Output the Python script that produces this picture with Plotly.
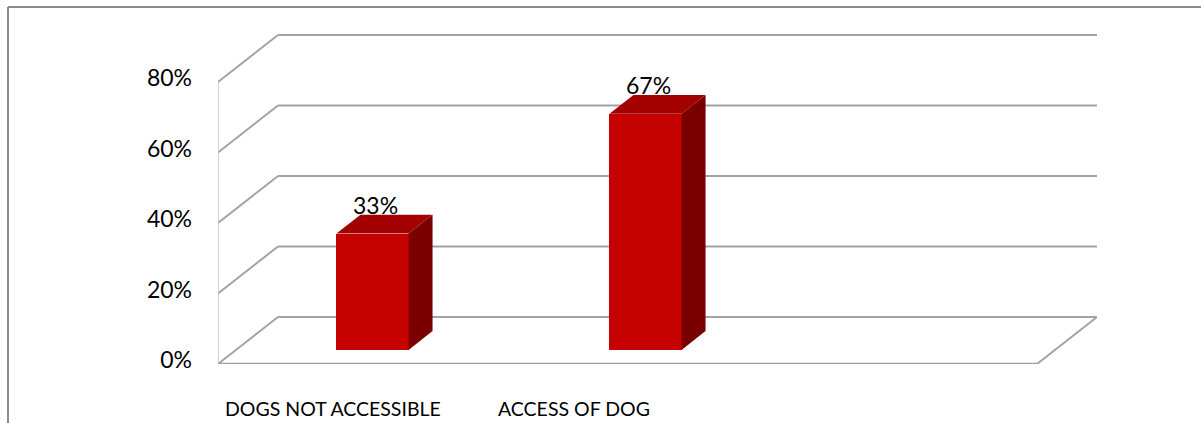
import plotly.graph_objects as go

# ---- data -------------------------------------------------------------
categories = ["DOGS NOT ACCESSIBLE", "ACCESS OF DOG"]
values = [33, 67]                      # percent
y_ticks = [0, 20, 40, 60, 80]
y_tick_text = ["0%", "20%", "40%", "60%", "80%"]
n_slots = 3                            # category slots on the floor

# ---- geometry of the pseudo-3D box -----------------------------------
W, H = 1201, 423
L, T, B = 218, 30, 59
SLOT_PX = 273                          # pixels per category slot
PX_PER_PCT = 3.525                     # pixels per percent
DEPTH_PX = (60, 47)                    # oblique depth offset (right, up)

DX = DEPTH_PX[0] / SLOT_PX             # depth in x-axis units
DY = DEPTH_PX[1] / PX_PER_PCT          # depth in y-axis units
x_lo = -0.5
x_front_hi = n_slots - 0.5
x_hi = x_front_hi + DX
plot_w = (x_hi - x_lo) * SLOT_PX
R = W - L - plot_w
plot_h = H - T - B
y_hi = plot_h / PX_PER_PCT

BAR_W = 0.264
D_FRONT, D_BACK = 0.3, 0.7             # bar depth position within the box
DD = D_BACK - D_FRONT

FRONT_COL = "#C50000"
SIDE_COL = "#7A0000"
TOP_COL = "#A30000"
GRID_COL = "#A3A3A3"
FONT = "Lato"


def px_to_paper_x(px):
    return (px - L) / plot_w


def px_to_paper_y(py):
    return (H - B - py) / plot_h


fig = go.Figure()

bar_x = [i + D_FRONT * DX for i in range(len(values))]
bar_base = D_FRONT * DY

fig.add_trace(go.Bar(
    x=bar_x, y=values, base=[bar_base] * len(values), width=BAR_W,
    marker=dict(color=FRONT_COL, line=dict(width=0)),
    hoverinfo="skip", showlegend=False,
))

shapes = []


def seg(x0, y0, x1, y1, color=GRID_COL, width=2):
    shapes.append(dict(type="line", xref="x", yref="y", x0=x0, y0=y0,
                       x1=x1, y1=y1, layer="below",
                       line=dict(color=color, width=width)))


# back wall gridlines and side wall diagonals
for t in y_ticks:
    seg(x_lo + DX, t + DY, x_hi, t + DY)
    seg(x_lo, t, x_lo + DX, t + DY)
# side wall front edge
seg(x_lo, 0, x_lo, max(y_ticks), color="#C4C4C4", width=1.5)
# floor front edge and right edge
seg(x_lo, 0, x_front_hi, 0, color="#9E9E9E", width=2.5)
seg(x_front_hi, 0, x_hi, DY)


def poly(pts, color):
    path = "M " + " L ".join(f"{px},{py}" for px, py in pts) + " Z"
    shapes.append(dict(type="path", xref="x", yref="y", path=path,
                       fillcolor=color, line=dict(width=0), layer="above"))


annotations = []
for xc, v in zip(bar_x, values):
    xl, xr = xc - BAR_W / 2, xc + BAR_W / 2
    top = bar_base + v
    # right side face
    poly([(xr, bar_base), (xr, top), (xr + DD * DX, top + DD * DY),
          (xr + DD * DX, bar_base + DD * DY)], SIDE_COL)
    # top face
    poly([(xl, top), (xr, top), (xr + DD * DX, top + DD * DY),
          (xl + DD * DX, top + DD * DY)], TOP_COL)
    annotations.append(dict(
        x=xc + 0.01, y=top + DD * DY, xref="x", yref="y",
        text=f"{v}%", showarrow=False, yanchor="bottom", xanchor="center",
        yshift=-6, font=dict(family=FONT, size=23, color="#000000")))

# category labels along the front of the floor
for i, name in enumerate(categories):
    annotations.append(dict(
        x=i - 0.48, y=px_to_paper_y(409), xref="x", yref="paper", text=name,
        showarrow=False, xanchor="left", yanchor="middle",
        font=dict(family=FONT, size=19.5, color="#000000")))

# outer chart frame (left and top edges)
frame = dict(color="#8C8C8C", width=2)
shapes.append(dict(type="line", xref="paper", yref="paper",
                   x0=px_to_paper_x(8), y0=px_to_paper_y(7),
                   x1=px_to_paper_x(W + 2), y1=px_to_paper_y(7), line=frame))
shapes.append(dict(type="line", xref="paper", yref="paper",
                   x0=px_to_paper_x(8), y0=px_to_paper_y(7),
                   x1=px_to_paper_x(8), y1=px_to_paper_y(H + 2), line=frame))

fig.update_layout(
    width=W, height=H,
    margin=dict(l=L, r=R, t=T, b=B, pad=0),
    paper_bgcolor="#FFFFFF", plot_bgcolor="#FFFFFF",
    shapes=shapes, annotations=annotations,
    font=dict(family=FONT, color="#000000"),
    xaxis=dict(range=[x_lo, x_hi], visible=False, fixedrange=True),
    yaxis=dict(range=[0, y_hi], tickvals=y_ticks, ticktext=y_tick_text,
               showgrid=False, zeroline=False, showline=False,
               ticks="", ticklabelstandoff=25, ticklabelshift=-4,
               tickfont=dict(family=FONT, size=23, color="#000000"),
               fixedrange=True),
    bargap=0,
)

fig.write_html("out.html")
